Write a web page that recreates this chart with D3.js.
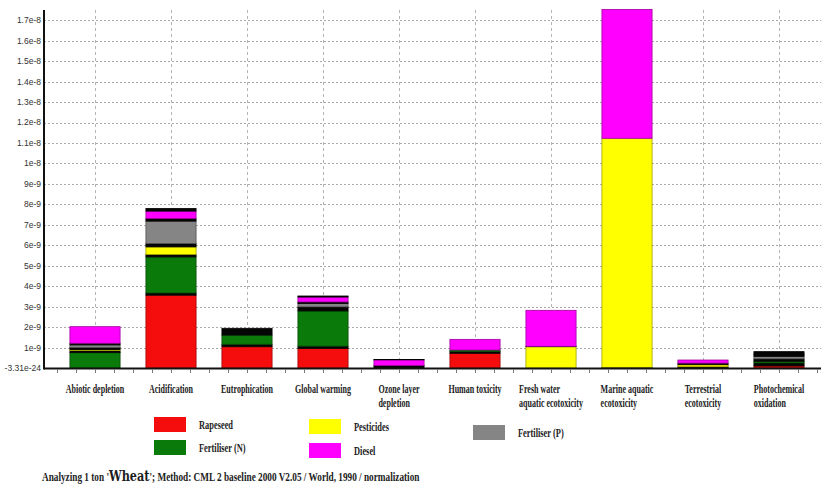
<!DOCTYPE html>
<html>
<head>
<meta charset="utf-8">
<script src="https://d3js.org/d3.v7.min.js"></script>
<style>
  body { margin: 0; background: #fff; }
  .hgrid line { stroke: #a9a9a9; stroke-dasharray: 2,2; }
  .vgrid line { stroke: #b5b5b5; stroke-dasharray: 3,3; }
  .cat text, .legend text, .caption {
    font-family: "Liberation Serif", "Times New Roman", serif;
    font-weight: bold;
    fill: #1c1c1c;
  }
  .ylab text { font: 8.5px "Liberation Sans", Arial, sans-serif; fill: #333; }
</style>
</head>
<body>
<svg id="chart" width="821" height="484"></svg>
<script>
// impact categories, in axis order
var categories = ["Abiotic depletion", "Acidification", "Eutrophication", "Global warming",
  "Ozone layer depletion", "Human toxicity", "Fresh water aquatic ecotoxicity",
  "Marine aquatic ecotoxicity", "Terrestrial ecotoxicity", "Photochemical oxidation"];
var categoryLines = [["Abiotic depletion"], ["Acidification"], ["Eutrophication"], ["Global warming"],
  ["Ozone layer", "depletion"], ["Human toxicity"], ["Fresh water", "aquatic ecotoxicity"],
  ["Marine aquatic", "ecotoxicity"], ["Terrestrial", "ecotoxicity"], ["Photochemical", "oxidation"]];

// normalised values, units of 1e-9
var rapeseed   = [0,    3.56, 1.04, 0.96, 0,    0.72, 0,    0,    0,    0.10];
var other1     = [0,    0.11, 0.12, 0.11, 0.12, 0.08, 0,    0,    0.06, 0.15];
var fertN      = [0.75, 1.76, 0.45, 1.72, 0,    0.08, 0,    0.03, 0,    0.08];
var other2     = [0.10, 0.12, 0.33, 0.20, 0,    0,    0,    0,    0,    0.12];
var pesticides = [0.05, 0.37, 0,    0,    0,    0,    1.04, 11.2, 0.10, 0];
var other3     = [0.10, 0.17, 0,    0,    0,    0,    0.02, 0,    0.08, 0];
var fertP      = [0.13, 1.09, 0,    0.16, 0,    0,    0,    0,    0,    0.12];
var other4     = [0.08, 0.13, 0,    0.08, 0,    0,    0,    0,    0,    0.10];
var diesel     = [0.81, 0.36, 0,    0.24, 0.28, 0.52, 1.76, 6.30, 0.15, 0];
var other5     = [0,    0.13, 0,    0.05, 0.02, 0,    0,    0,    0,    0.13];

// stack order, bottom to top (the "other" ones are the dark unlisted bands)
var seriesKeys = ["rapeseed", "other1", "fertN", "other2", "pesticides", "other3", "fertP", "other4", "diesel", "other5"];
var seriesValues = [rapeseed, other1, fertN, other2, pesticides, other3, fertP, other4, diesel, other5];
var seriesColors = ["#f50d0d", "#050505", "#0a7a0a", "#050505", "#ffff00", "#050505", "#858585", "#050505", "#ff00ff", "#050505"];

var legendNames = ["Rapeseed", "Fertiliser (N)", "Pesticides", "Diesel", "Fertiliser (P)"];
var legendColors = ["#f50d0d", "#0a7a0a", "#ffff00", "#ff00ff", "#858585"];

var tickValues = [0, 1, 2, 3, 4, 5, 6, 7, 8, 9, 10, 11, 12, 13, 14, 15, 16, 17];
var tickLabels = ["-3.31e-24", "1e-9", "2e-9", "3e-9", "4e-9", "5e-9", "6e-9", "7e-9", "8e-9", "9e-9",
  "1e-8", "1.1e-8", "1.2e-8", "1.3e-8", "1.4e-8", "1.5e-8", "1.6e-8", "1.7e-8"];

var W = 821, H = 484;
var plotLeft = 44, plotTop = 10, base = 368, plotRight = 821;

var svg = d3.select("#chart");
svg.append("rect").attr("width", W).attr("height", H).attr("fill", "#fff");

var rows = categories.map(function (c, i) {
  var r = { cat: c };
  seriesKeys.forEach(function (k, j) { r[k] = seriesValues[j][i] * 1e-9; });
  return r;
});

var y = d3.scaleLinear().domain([0, 17.5e-9]).range([base, plotTop]);
var x = d3.scaleBand().domain(categories).range([57, 817]).paddingInner(0.34).paddingOuter(0.17);
var minor = d3.scaleLinear().domain([0, 40]).range([57, 817]);

// horizontal grid
svg.append("g").attr("class", "hgrid")
  .selectAll("line").data(tickValues.slice(1)).enter().append("line")
  .attr("x1", plotLeft).attr("x2", plotRight)
  .attr("y1", function (d) { return Math.round(y(d * 1e-9)) + 0.5; })
  .attr("y2", function (d) { return Math.round(y(d * 1e-9)) + 0.5; });

// vertical grid at category centres
svg.append("g").attr("class", "vgrid")
  .selectAll("line").data(categories).enter().append("line")
  .attr("x1", function (d) { return Math.round(x(d) + x.bandwidth() / 2) + 0.5; })
  .attr("x2", function (d) { return Math.round(x(d) + x.bandwidth() / 2) + 0.5; })
  .attr("y1", plotTop).attr("y2", base);

// stacked bars
var stacked = d3.stack().keys(seriesKeys)(rows);
svg.append("g").selectAll("g").data(stacked).enter().append("g")
  .attr("fill", function (d, i) { return seriesColors[i]; })
  .attr("stroke", function (d, i) { return d3.color(seriesColors[i]).darker(1.3); })
  .attr("stroke-width", 0.8)
  .selectAll("rect").data(function (d) { return d.filter(function (s) { return s[1] - s[0] > 0; }); })
  .enter().append("rect")
  .attr("x", function (d) { return x(d.data.cat); })
  .attr("width", x.bandwidth())
  .attr("y", function (d) { return y(d[1]); })
  .attr("height", function (d) { return y(d[0]) - y(d[1]); });

// axes
svg.append("line").attr("x1", plotLeft).attr("x2", plotRight).attr("y1", base + 0.5).attr("y2", base + 0.5)
  .attr("stroke", "#111").attr("stroke-width", 2);
svg.append("line").attr("x1", plotLeft).attr("x2", plotLeft).attr("y1", plotTop).attr("y2", base + 1.5)
  .attr("stroke", "#111").attr("stroke-width", 2);

svg.append("g").selectAll("line").data(d3.range(0, 41)).enter().append("line")
  .attr("x1", function (d) { return Math.round(minor(d)) + 0.5; })
  .attr("x2", function (d) { return Math.round(minor(d)) + 0.5; })
  .attr("y1", base + 1).attr("y2", base + 5)
  .attr("stroke", "#777");

svg.append("g").attr("class", "ylab")
  .selectAll("text").data(tickValues).enter().append("text")
  .attr("x", plotLeft - 3)
  .attr("y", function (d) { return y(d * 1e-9); })
  .attr("dy", "0.35em")
  .attr("text-anchor", "end")
  .text(function (d, i) { return tickLabels[i]; });

// category labels, lines left aligned, block centred on the band
var cat = svg.append("g").attr("class", "cat").selectAll("g").data(categories).enter().append("g")
  .attr("transform", function (d) { return "translate(" + (x(d) + x.bandwidth() / 2) + ",393) scale(0.68,1)"; });
cat.each(function (d, i) {
  var g = d3.select(this);
  var t = g.selectAll("text").data(categoryLines[i]).enter().append("text")
    .attr("y", function (s, j) { return j * 14; })
    .style("font-size", "11.8px")
    .text(function (s) { return s; });
  var w = 0;
  t.each(function () { w = Math.max(w, this.getComputedTextLength()); });
  t.attr("x", -w / 2);
});

// legend
var legendPos = [[154, 417], [154, 440], [309, 419], [309, 443], [473, 425]];
var lg = svg.append("g").attr("class", "legend").selectAll("g").data(legendNames).enter().append("g")
  .attr("transform", function (d, i) { return "translate(" + legendPos[i][0] + "," + legendPos[i][1] + ")"; });
lg.append("rect").attr("width", 32).attr("height", 15)
  .attr("fill", function (d, i) { return legendColors[i]; });
lg.append("text")
  .attr("transform", "translate(45,11.5) scale(0.7,1)")
  .style("font-size", "12px")
  .text(function (d) { return d; });

// caption, squeezed to the reference width
var cap = svg.append("text").attr("class", "caption")
  .style("font-size", "11.5px");
cap.append("tspan").text("Analyzing 1 ton '");
cap.append("tspan").style("font-size", "14px").style("font-family", "'DejaVu Serif', serif").text("Wheat");
cap.append("tspan").text("'; Method: CML 2 baseline 2000 V2.05 / World, 1990 / normalization");
var capLen = cap.node().getComputedTextLength();
cap.attr("transform", "translate(42,481) scale(" + (378 / capLen) + ",1)");
</script>
</body>
</html>
